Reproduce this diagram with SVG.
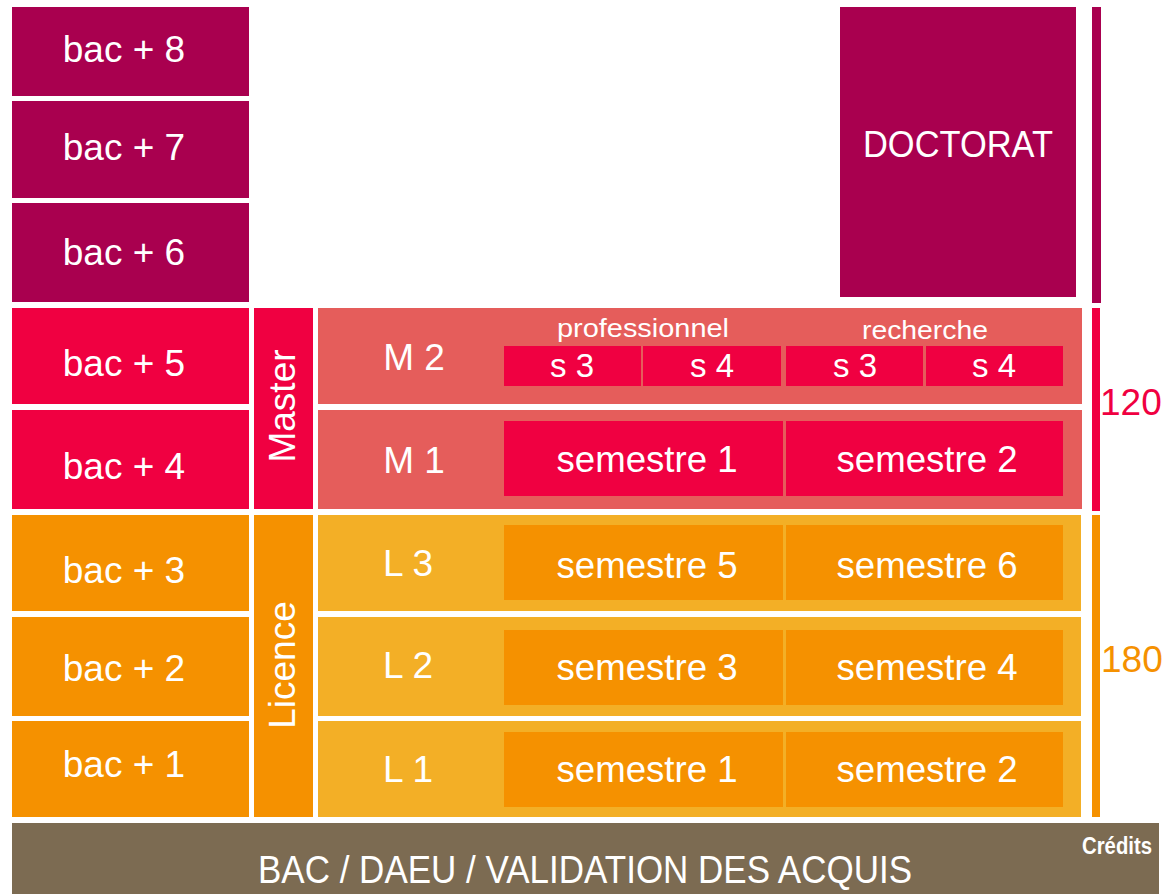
<svg xmlns="http://www.w3.org/2000/svg" width="1167" height="894" viewBox="0 0 1167 894">
<style>
text{font-family:"Liberation Sans",Arial,sans-serif;fill:#fff}
.big{font-size:37px;text-anchor:middle}
.mid{font-size:33px;text-anchor:middle}
.sm{font-size:26px;text-anchor:middle}
.purple{fill:#A9004F}
.red{fill:#F00041}
.salmon{fill:#E55D5B}
.orange{fill:#F59100}
.lorange{fill:#F3AF26}
.brown{fill:#7C6B52}
</style>
<rect width="1167" height="894" fill="#fff"/>
<g id="bac8"><rect class="purple" x="12" y="7" width="237" height="89"/><text class="big" x="124" y="62">bac + 8</text></g>
<g id="bac7"><rect class="purple" x="12" y="101" width="237" height="97"/><text class="big" x="124" y="160">bac + 7</text></g>
<g id="bac6"><rect class="purple" x="12" y="203" width="237" height="99"/><text class="big" x="124" y="265">bac + 6</text></g>
<g id="bac5"><rect class="red" x="12" y="308" width="237" height="96"/><text class="big" x="124" y="376">bac + 5</text></g>
<g id="bac4"><rect class="red" x="12" y="410" width="237" height="99"/><text class="big" x="124" y="479">bac + 4</text></g>
<g id="bac3"><rect class="orange" x="12" y="515" width="237" height="96"/><text class="big" x="124" y="583">bac + 3</text></g>
<g id="bac2"><rect class="orange" x="12" y="617" width="237" height="99"/><text class="big" x="124" y="681">bac + 2</text></g>
<g id="bac1"><rect class="orange" x="12" y="721" width="237" height="96"/><text class="big" x="124" y="777">bac + 1</text></g>

<g id="doctorat"><rect class="purple" x="840" y="7" width="236" height="290"/><text class="big" x="958" y="157" textLength="190" lengthAdjust="spacingAndGlyphs">DOCTORAT</text></g>

<g id="master"><rect class="red" x="254" y="308" width="59" height="201"/><text class="big" transform="translate(295,406) rotate(-90)" x="0" y="0">Master</text></g>
<g id="licence"><rect class="orange" x="254" y="515" width="59" height="302"/><text class="big" transform="translate(295,665) rotate(-90)" x="0" y="0">Licence</text></g>

<g id="m2">
<rect class="salmon" x="318" y="308" width="764" height="96"/>
<text class="big" x="414" y="370">M 2</text>
<text class="sm" x="643" y="337" textLength="172" lengthAdjust="spacingAndGlyphs">professionnel</text>
<text class="sm" x="925" y="339" textLength="126" lengthAdjust="spacingAndGlyphs">recherche</text>
<rect class="red" x="504" y="346" width="137" height="40"/><text class="mid" x="572" y="377">s 3</text>
<rect class="red" x="643" y="346" width="138" height="40"/><text class="mid" x="712" y="377">s 4</text>
<rect class="red" x="786" y="346" width="137" height="40"/><text class="mid" x="855" y="377">s 3</text>
<rect class="red" x="926" y="346" width="137" height="40"/><text class="mid" x="994" y="377">s 4</text>
</g>
<g id="m1">
<rect class="salmon" x="318" y="410" width="764" height="99"/>
<text class="big" x="414" y="473">M 1</text>
<rect class="red" x="504" y="421" width="279" height="75"/><text class="big" x="647" y="472" textLength="181" lengthAdjust="spacingAndGlyphs">semestre 1</text>
<rect class="red" x="786" y="421" width="277" height="75"/><text class="big" x="927" y="472" textLength="181" lengthAdjust="spacingAndGlyphs">semestre 2</text>
</g>
<g id="l3">
<rect class="lorange" x="318" y="515" width="763" height="96"/>
<text class="big" x="408" y="576">L 3</text>
<rect class="orange" x="504" y="525" width="279" height="75"/><text class="big" x="647" y="578" textLength="181" lengthAdjust="spacingAndGlyphs">semestre 5</text>
<rect class="orange" x="786" y="525" width="277" height="75"/><text class="big" x="927" y="578" textLength="181" lengthAdjust="spacingAndGlyphs">semestre 6</text>
</g>
<g id="l2">
<rect class="lorange" x="318" y="617" width="763" height="99"/>
<text class="big" x="408" y="678">L 2</text>
<rect class="orange" x="504" y="630" width="279" height="75"/><text class="big" x="647" y="680" textLength="181" lengthAdjust="spacingAndGlyphs">semestre 3</text>
<rect class="orange" x="786" y="630" width="277" height="75"/><text class="big" x="927" y="680" textLength="181" lengthAdjust="spacingAndGlyphs">semestre 4</text>
</g>
<g id="l1">
<rect class="lorange" x="318" y="721" width="763" height="96"/>
<text class="big" x="408" y="782">L 1</text>
<rect class="orange" x="504" y="732" width="279" height="75"/><text class="big" x="647" y="782" textLength="181" lengthAdjust="spacingAndGlyphs">semestre 1</text>
<rect class="orange" x="786" y="732" width="277" height="75"/><text class="big" x="927" y="782" textLength="181" lengthAdjust="spacingAndGlyphs">semestre 2</text>
</g>

<g id="credits-bars">
<rect class="purple" x="1092" y="7" width="9" height="296"/>
<rect class="red" x="1092" y="308" width="8" height="203"/>
<rect class="orange" x="1092" y="515" width="8" height="302"/>
<text x="1100" y="415" style="font-size:37px;fill:#F00041">120</text>
<text x="1101" y="672" style="font-size:37px;fill:#F59100">180</text>
</g>

<g id="bac">
<rect class="brown" x="12" y="823" width="1147" height="71"/>
<text class="big" x="585" y="883" style="font-size:38px" textLength="654" lengthAdjust="spacingAndGlyphs">BAC / DAEU / VALIDATION DES ACQUIS</text>
<text x="1082" y="854" style="font-size:23px;font-weight:bold" textLength="70" lengthAdjust="spacingAndGlyphs">Crédits</text>
</g>
</svg>
